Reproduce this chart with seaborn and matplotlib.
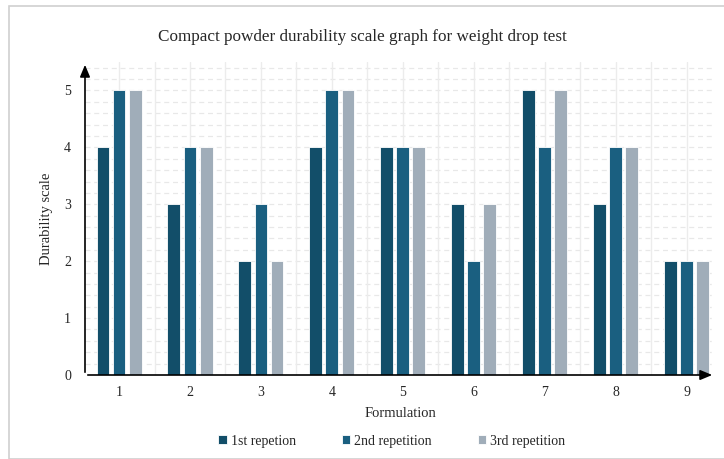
import matplotlib
matplotlib.use("Agg")
import matplotlib.pyplot as plt
import seaborn as sns
import pandas as pd
import numpy as np
from matplotlib.patches import Rectangle

formulations = ["1", "2", "3", "4", "5", "6", "7", "8", "9"]
rep1 = [4, 3, 2, 4, 4, 3, 5, 3, 2]
rep2 = [5, 4, 3, 5, 4, 2, 4, 4, 2]
rep3 = [5, 4, 2, 5, 4, 3, 5, 4, 2]
series_names = ["1st repetion", "2nd repetition", "3rd repetition"]
colors = ["#124e69", "#1a5f80", "#a0adb9"]

df = pd.DataFrame({
    "Formulation": formulations * 3,
    "Durability": rep1 + rep2 + rep3,
    "Series": [series_names[0]] * 9 + [series_names[1]] * 9 + [series_names[2]] * 9,
})

sns.set_theme(style="white")
plt.rcParams["font.family"] = ["Liberation Serif", "DejaVu Serif"]

fig = plt.figure(figsize=(7.24, 4.59), dpi=100)
ax = fig.add_axes([85 / 724, 1 - 375 / 459, 630 / 724, (375 - 62) / 459])

sns.barplot(data=df, x="Formulation", y="Durability", hue="Series",
            palette=colors, saturation=1, width=0.68, gap=0.2, ax=ax,
            edgecolor="white", linewidth=0.6, legend=True, zorder=3)

ax.set_xlim(-0.48, 8.4)
ax.set_ylim(0, 5.5)
ax.set_yticks([0, 1, 2, 3, 4, 5])
ax.set_yticklabels(["0", "1", "2", "3", "4", "5"], fontsize=10)
ax.tick_params(axis="x", labelsize=10, length=0, pad=8)
ax.tick_params(axis="y", length=0, pad=10)

# grid
for y in np.arange(0.2, 5.51, 0.2):
    ax.axhline(y, color="#e8e8e8", lw=0.9, ls=(0, (4, 3)), zorder=0)
for x in np.arange(0, 8.6, 0.5):
    ax.axvline(x, color="#ececec", lw=1.0, zorder=0)

for s in ax.spines.values():
    s.set_visible(False)

# arrow axes
ax.annotate("", xy=(1.0, 0), xytext=(0, 0), xycoords="axes fraction",
            arrowprops=dict(arrowstyle="-|>,head_length=0.6,head_width=0.25", color="black", lw=1.2),
            zorder=5, annotation_clip=False)
ax.annotate("", xy=(0, 1.0), xytext=(0, 0), xycoords="axes fraction",
            arrowprops=dict(arrowstyle="-|>,head_length=0.6,head_width=0.25", color="black", lw=1.2),
            zorder=5, annotation_clip=False)

ax.set_xlabel("Formulation", fontsize=10.5, labelpad=6)
ax.set_ylabel("Durability scale", fontsize=10.5, labelpad=8)

fig.text(0.5, 1 - 37 / 459, "Compact powder durability scale graph for weight drop test",
         ha="center", va="center", fontsize=12.3)

handles, labels = ax.get_legend_handles_labels()
ax.legend_.remove()
leg = fig.legend(handles, labels, loc="center", bbox_to_anchor=(392 / 724, 1 - 441 / 459),
                 ncol=3, frameon=False, fontsize=10, handlelength=0.6, handleheight=0.6,
                 handletextpad=0.3, columnspacing=3.3)

fig.patches.append(Rectangle((9 / 724, 0), 1.2, 1 - 6 / 459, transform=fig.transFigure,
                             fill=False, edgecolor="#d0d0d0", lw=1.2, zorder=0))

fig.savefig("out.png", dpi=100)
